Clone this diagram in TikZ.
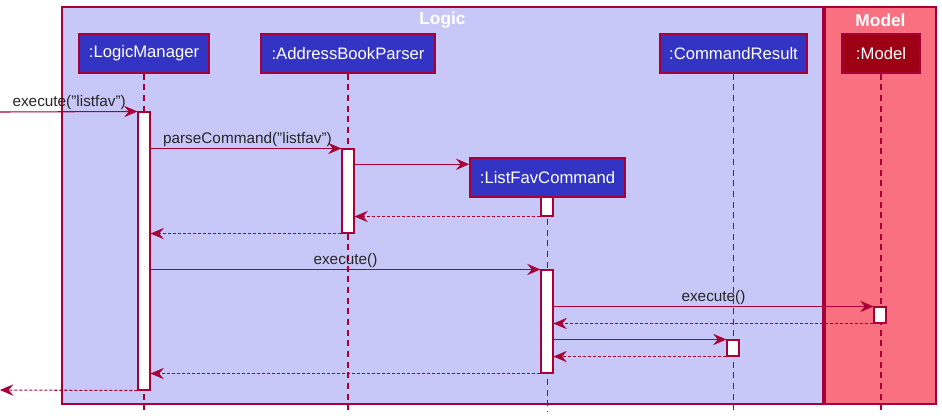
\documentclass[tikz,border=0pt]{standalone}
\usepackage{fontspec}
\setmainfont{Liberation Sans}
\usepackage{tikz}
\usetikzlibrary{
  arrows.meta,
  positioning,
  calc,
  fit
}
\usepackage{xcolor}
\definecolor{logicfill}{RGB}{200, 200, 248}
\definecolor{modelfill}{RGB}{249, 113, 128}
\definecolor{partblue}{RGB}{51,  51,  196}
\definecolor{partred}{RGB}{157, 0,   20}
\definecolor{seqline}{RGB}{168, 0,   54}
\tikzset{
  % Paketlar (Logic, Model)
  pkgbox/.style   = {draw=seqline, line width=1.1pt},
  pkgtitle/.style = {font=\fontsize{13}{15}\selectfont\bfseries, text=white, inner sep=0pt},
  % Ishtirokchilar
  part/.style     = {draw=seqline, line width=1.1pt, fill=partblue, text=white,
                     font=\fontsize{12.5}{15}\selectfont, minimum height=29.25pt, inner sep=0pt},
  partM/.style    = {part, fill=partred},
  % Hayot chiziqlari
  lifeline/.style = {seqline, line width=0.8pt, dash pattern=on 4.5pt off 3.5pt},
  actbar/.style   = {draw=seqline, fill=white, line width=0.8pt, inner sep=0pt},
  % Xabarlar
  msg/.style      = {seqline, line width=0.8pt, -{Stealth[length=10pt, width=8.5pt, inset=3.5pt]}},
  ret/.style      = {msg, dash pattern=on 2.25pt off 1.5pt},
  msglab/.style   = {font=\fontsize{11.5}{13}\selectfont, text=black!85, inner sep=1pt},
}
\begin{document}
\begin{tikzpicture}[x=0.75pt, y=-0.75pt]
  \useasboundingbox (0,0) rectangle (942,419);
  % Paketlar
  \draw[pkgbox, fill=logicfill] (62,7) rectangle (823,404);
  \draw[pkgbox, fill=modelfill] (825,7) rectangle (936,404);
  \node[pkgtitle] (logicT) at (442.5,20) {Logic};
  \node[pkgtitle] (modelT) at (880.5,20) {Model};
  % Ishtirokchilar
  \node[part, minimum width=97.5pt]   (lm)  at (144,53.5)   {:LogicManager};
  \node[part, minimum width=130.5pt]  (abp) at (348,53.5)   {:AddressBookParser};
  \node[part, minimum width=110.25pt] (cr)  at (733.5,53.5) {:CommandResult};
  \node[partM, minimum width=58.5pt]  (mdl) at (881,53.5)   {:Model};
  \node[part, minimum width=116.25pt] (lfc) at (547.5,177.5) {:ListFavCommand};
  % Hayot chiziqlari
  \coordinate (lifeEnd) at (0,412);
  \draw[lifeline] (lm.south)  -- (lm.south |- lifeEnd);
  \draw[lifeline] (abp.south) -- (abp.south |- lifeEnd);
  \draw[lifeline] (lfc.south) -- (lfc.south |- lifeEnd);
  \draw[lifeline] (cr.south)  -- (cr.south |- lifeEnd);
  \draw[lifeline] (mdl.south) -- (mdl.south |- lifeEnd);
  % Faollik ustunlari
  \node[actbar, fit={(138,112) (150,390)}]   (lmAct)   {};
  \node[actbar, fit={(342,149) (354,233)}]   (abpAct)  {};
  \node[actbar, fit={(541,197) (553,216)}]   (lfcActA) {};
  \node[actbar, fit={(541,270) (553,373)}]   (lfcActB) {};
  \node[actbar, fit={(874,307) (886,323)}]   (mdlAct)  {};
  \node[actbar, fit={(727,340) (739,356)}]   (crAct)   {};
  % Xabarlar
  \coordinate (inL)  at (0,112);
  \coordinate (outL) at (0,390);
  \draw[msg] (inL) -- node[msglab, pos=0, anchor=south west, xshift=8pt] {execute("listfav")} (lmAct.north west);
  \draw[msg] (lmAct.east |- abpAct.north) -- node[msglab, pos=0, anchor=south west, xshift=8pt] {parseCommand("listfav")} (abpAct.north west);
  \draw[msg] (abpAct.east |- {$(lfc.north west)+(0,7)$}) -- ($(lfc.north west)+(0,7)$);
  \draw[ret] (lfcActA.south west) -- (abpAct.east |- lfcActA.south);
  \draw[ret] (abpAct.south west) -- (lmAct.east |- abpAct.south);
  \draw[msg] (lmAct.east |- lfcActB.north) -- node[msglab, midway, above] {execute()} (lfcActB.north west);
  \draw[msg] (lfcActB.east |- mdlAct.north) -- node[msglab, midway, above] {execute()} (mdlAct.north west);
  \draw[ret] (mdlAct.south west) -- (lfcActB.east |- mdlAct.south);
  \draw[msg] (lfcActB.east |- crAct.north) -- (crAct.north west);
  \draw[ret] (crAct.south west) -- (lfcActB.east |- crAct.south);
  \draw[ret] (lfcActB.south west) -- (lmAct.east |- lfcActB.south);
  \draw[ret] (lmAct.south west) -- (outL);
\end{tikzpicture}
\end{document}
